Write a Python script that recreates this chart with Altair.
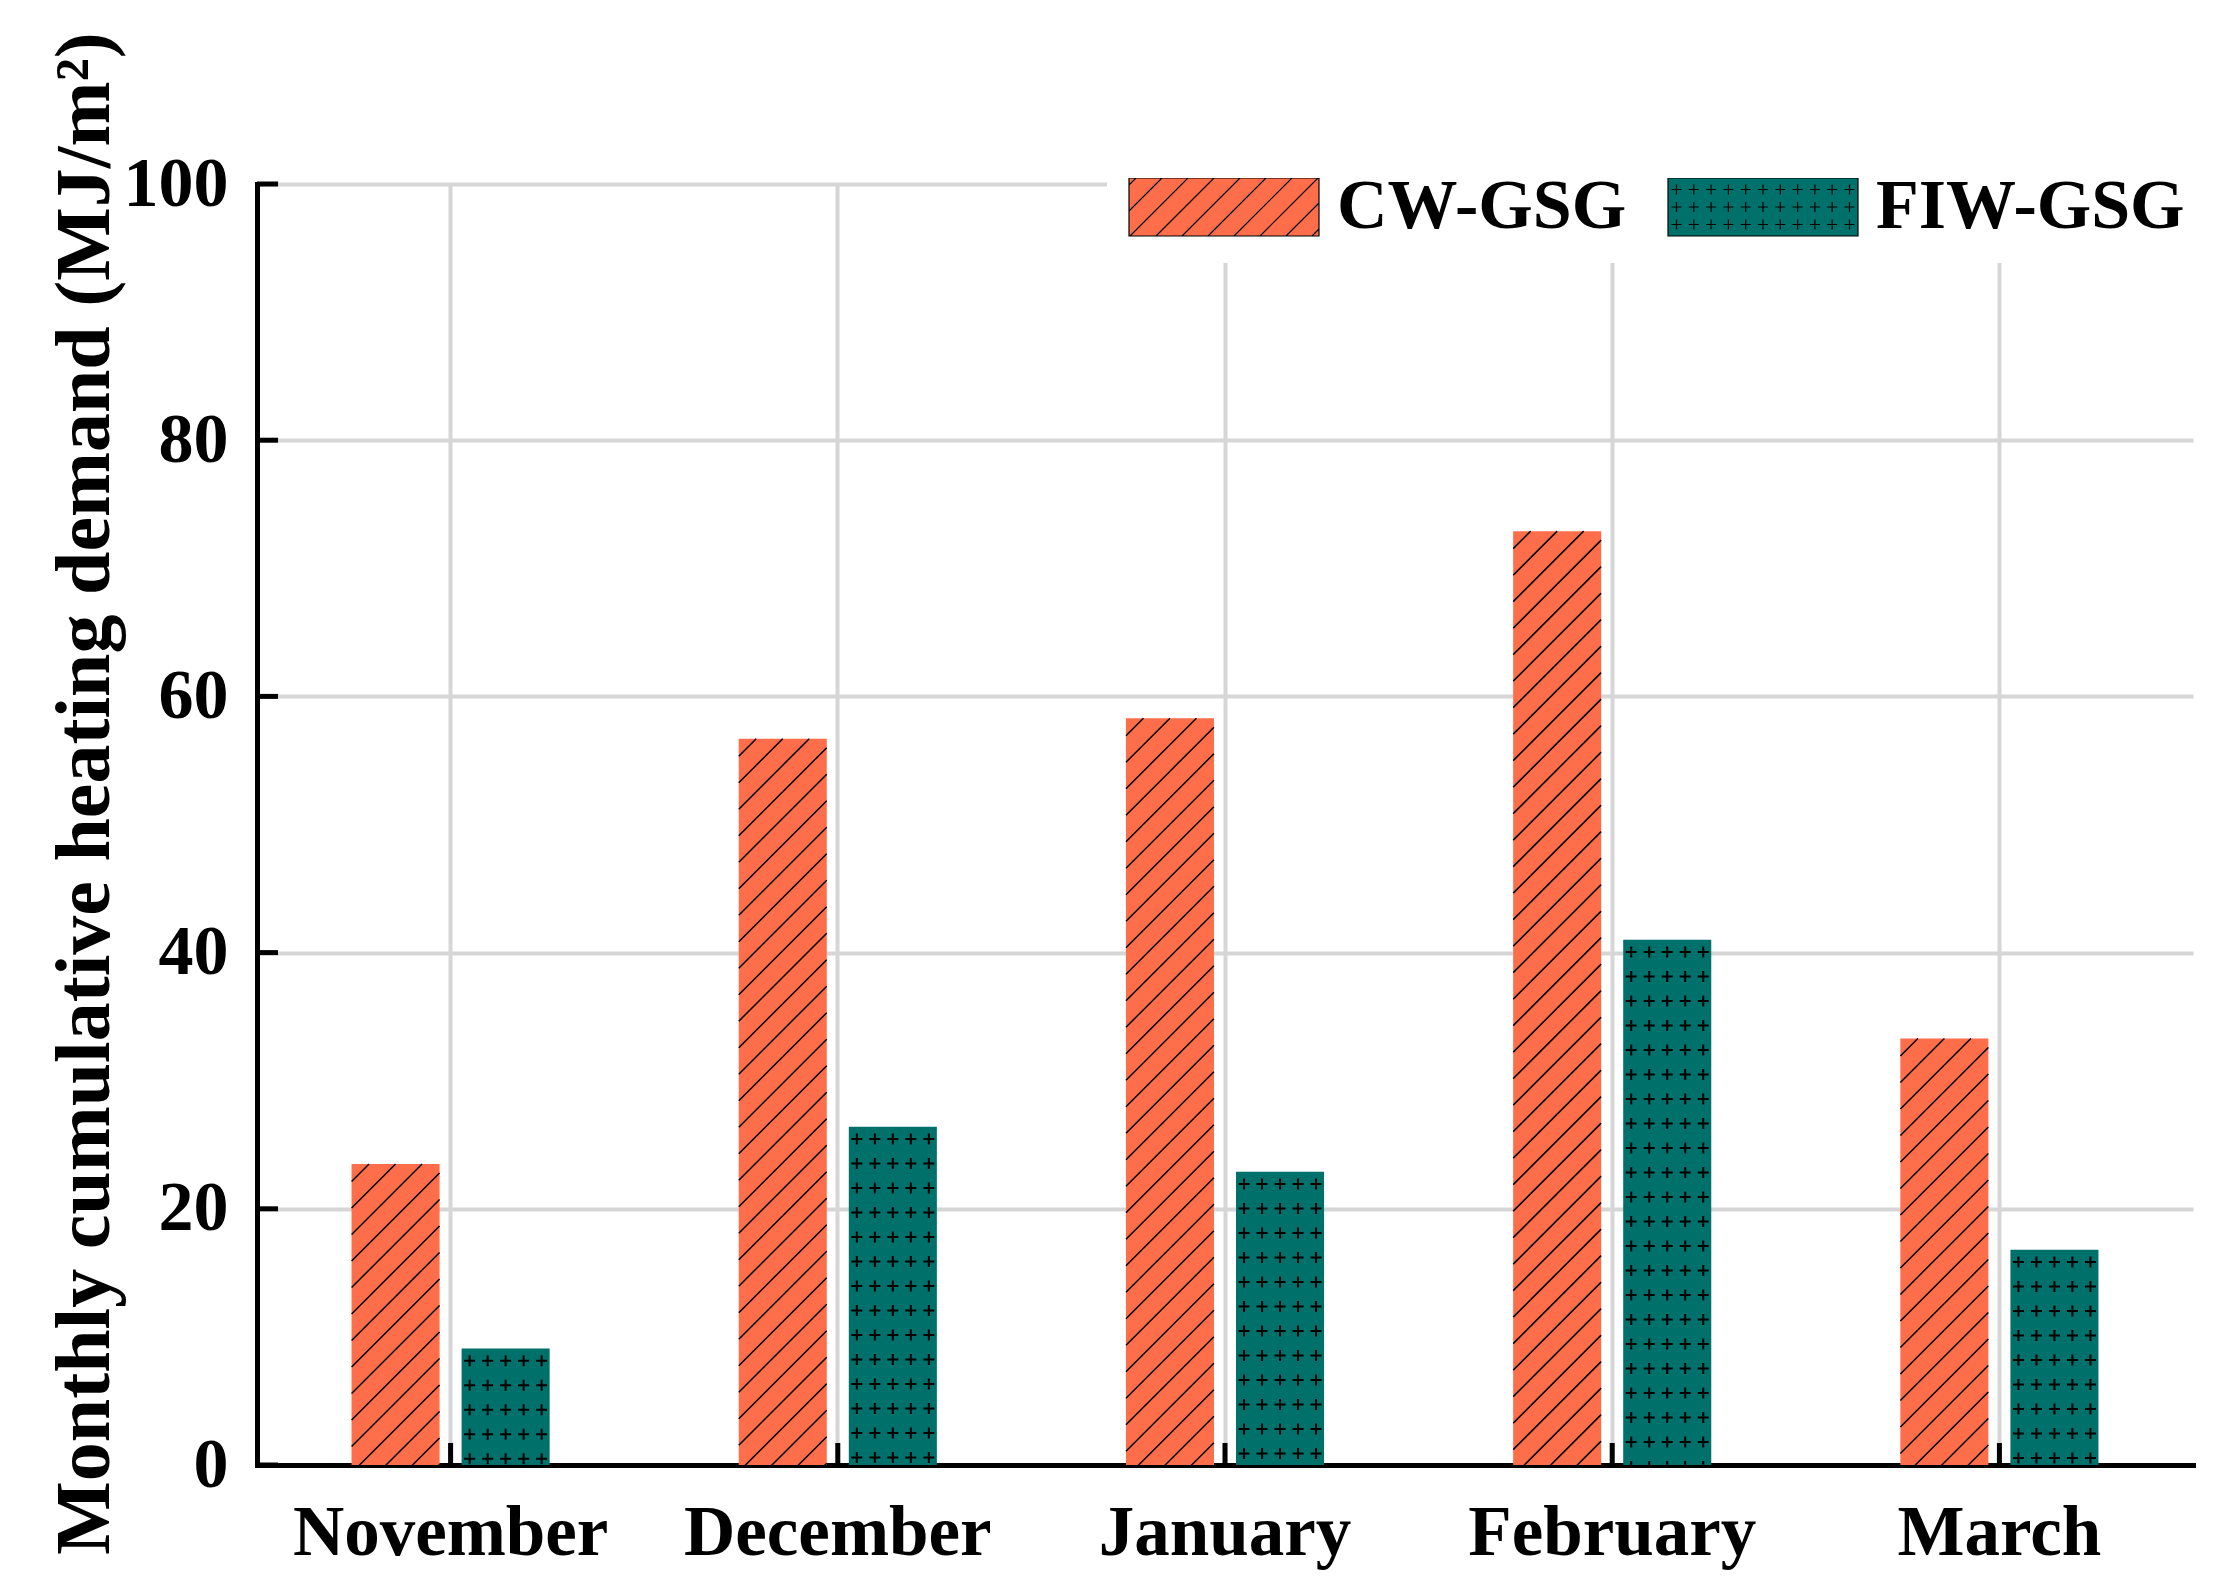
import altair as alt
import pandas as pd

# ---------------- data ----------------
MONTHS = ["November", "December", "January", "February", "March"]
SERIES = ["CW-GSG", "FIW-GSG"]
CW_VALUES = [23.5, 56.7, 58.3, 72.9, 33.3]
FIW_VALUES = [9.1, 26.4, 22.9, 41.0, 16.8]
Y_TICKS = [0, 20, 40, 60, 80, 100]
COLORS = ["#FF6E4A", "#00706A"]
Y_TITLE = "Monthly cumulative heating demand (MJ/m²)"

# ---------------- layout / style ----------------
FONT = "Liberation Serif"
W, H = 1936, 1281
YMAX = 100
PX_PER_UNIT = H / YMAX
BAR_W = 88
HATCH_STEP_PX = 26.5
PLUS_ROW_PX = 24.5


def fmt(v):
    s = f"{v:.4f}"
    return "0" if s in ("-0.0000", "0.0000") else s


def hatch_path(half_w, half_h, spacing, rect=False):
    hw = 1.0
    hh = half_h / half_w
    d = spacing / half_w
    parts = []
    if rect:
        parts.append(f"M{fmt(-hw)},{fmt(-hh)}H{fmt(hw)}V{fmt(hh)}H{fmt(-hw)}Z")
    for k in range(-12, 13):
        c = k * d + d / 2
        s_lo = max(-hh, -hw - c)
        s_hi = min(hh, hw - c)
        if s_hi - s_lo > 1e-6:
            x1, y1 = c + s_lo, s_lo
            x2, y2 = c + s_hi, s_hi
            parts.append(f"M{fmt(x1)},{fmt(-y1)}L{fmt(x2)},{fmt(-y2)}")
    return "".join(parts)


def plus_path(half_w, xs_px, ys_px, arm_px, half_h=None):
    parts = []
    if half_h is not None:
        hh = half_h / half_w
        parts.append(f"M-1,{fmt(-hh)}H1V{fmt(hh)}H-1Z")
    a = arm_px / half_w
    for y in ys_px:
        for x in xs_px:
            ux, uy = x / half_w, y / half_w
            parts.append(f"M{fmt(ux - a)},{fmt(uy)}H{fmt(ux + a)}M{fmt(ux)},{fmt(uy - a)}V{fmt(uy + a)}")
    return "".join(parts)


# bar fill textures (tiles as custom symbol paths)
HATCH_TILE = hatch_path(BAR_W / 2, HATCH_STEP_PX / 2, HATCH_STEP_PX)
PLUS_ROW = plus_path(BAR_W / 2, [-36, -18, 0, 18, 36], [0], 5.5)

# legend symbols
LEG_W, LEG_H = 190, 58
LEG_HATCH = hatch_path(LEG_W / 2, LEG_H / 2, 26, rect=True)
LEG_PLUS = plus_path(LEG_W / 2, [(i - 5) * 17.3 for i in range(11)], [-17.5, 0, 17.5], 5, half_h=LEG_H / 2)

rows = []
for m, c, f in zip(MONTHS, CW_VALUES, FIW_VALUES):
    rows.append({"month": m, "series": SERIES[0], "value": c})
    rows.append({"month": m, "series": SERIES[1], "value": f})
df = pd.DataFrame(rows)

xscale = alt.Scale(domain=MONTHS, paddingInner=0, paddingOuter=0)
yscale = alt.Scale(domain=[0, YMAX], nice=False, zero=True)
xoff = alt.XOffset("series:N", scale=alt.Scale(domain=SERIES, paddingInner=0.2, paddingOuter=0.859))
color_scale = alt.Scale(domain=SERIES, range=COLORS)
shape_scale = alt.Scale(domain=SERIES, range=[LEG_HATCH, LEG_PLUS])

GRID = "#d6d6d6"

x_axis = alt.Axis(
    title=None, labelAngle=0, labelFont=FONT, labelFontSize=71, labelFontWeight="bold",
    labelColor="black", labelBaseline="alphabetic", labelPadding=89, labelLimit=1000,
    ticks=False, tickSize=0, domainColor="black", domainWidth=5, domainCap="square",
    grid=True, gridColor=GRID, gridWidth=4, bandPosition=0.5,
)
y_axis = alt.Axis(
    values=Y_TICKS, format="d", title=Y_TITLE, titleFont=FONT, titleFontSize=78,
    titleFontWeight="bold", titleColor="black", titleX=-149, titleY=609,
    titleBaseline="alphabetic", titleAlign="center", titleAngle=270, titleLimit=3000,
    labelFont=FONT, labelFontSize=70, labelFontWeight="bold", labelColor="black",
    labelPadding=29, ticks=False, tickSize=0, domainColor="black", domainWidth=5,
    domainCap="square", grid=True, gridColor=GRID, gridWidth=4,
)

legend = alt.Legend(
    title=None, orient="none", legendX=850, legendY=-27, direction="horizontal",
    labelFont=FONT, labelFontSize=70, labelFontWeight="bold", labelColor="black",
    labelLimit=1000, labelOffset=17, symbolSize=LEG_W ** 2, clipHeight=LEG_H,
    columnPadding=40, padding=21, fillColor="white",
    symbolStrokeWidth=1.2, symbolOpacity=1,
)


def X(field="month:N"):
    return alt.X(field, scale=xscale, axis=x_axis, title=None)


def Y(field):
    return alt.Y(field, scale=yscale, axis=y_axis, title=Y_TITLE)


base = alt.Chart(df)

# invisible (clipped) point layer that carries the patterned legend symbols
legend_layer = base.mark_point(filled=True, stroke="black", strokeWidth=1.2, opacity=1, clip=True).encode(
    x=alt.value(-5000),
    y=alt.value(-5000),
    color=alt.Color("series:N", scale=color_scale, legend=legend),
    shape=alt.Shape("series:N", scale=shape_scale, legend=legend),
)

bars = base.mark_bar().encode(
    x=X(),
    xOffset=xoff,
    y=Y("value:Q"),
    color=alt.Color("series:N", scale=color_scale, legend=legend),
)

P_H = HATCH_STEP_PX / PX_PER_UNIT
hatch = (
    base.transform_filter(alt.datum.series == SERIES[0])
    .transform_calculate(r=f"sequence({P_H / 2}, datum.value + {P_H / 2}, {P_H})")
    .transform_flatten(["r"])
    .transform_calculate(yc="datum.value - datum.r")
    .mark_point(shape=HATCH_TILE, size=BAR_W ** 2, filled=False, stroke="black",
                strokeWidth=1.5, opacity=1, clip=True)
    .encode(x=X(), xOffset=xoff, y=Y("yc:Q"))
)

P_P = PLUS_ROW_PX / PX_PER_UNIT
plus = (
    base.transform_filter(alt.datum.series == SERIES[1])
    .transform_calculate(r=f"sequence({P_P / 2}, datum.value + {P_P / 2}, {P_P})")
    .transform_flatten(["r"])
    .transform_calculate(yc="datum.value - datum.r")
    .mark_point(shape=PLUS_ROW, size=BAR_W ** 2, filled=False, stroke="black",
                strokeWidth=2, opacity=1, clip=True)
    .encode(x=X(), xOffset=xoff, y=Y("yc:Q"))
)

x_ticks = alt.Chart(pd.DataFrame({"month": MONTHS})).mark_rule(color="black", strokeWidth=5).encode(
    x=X(),
    y=alt.value(H),
    y2=alt.value(H - 22),
)

y_ticks = alt.Chart(pd.DataFrame({"tick": Y_TICKS})).mark_rule(color="black", strokeWidth=5).encode(
    y=Y("tick:Q"),
    x=alt.value(0),
    x2=alt.value(21),
)

chart = (
    alt.layer(legend_layer, bars, hatch, plus, x_ticks, y_ticks)
    .properties(
        width=W,
        height=H,
        padding={"left": 249, "top": 176, "right": 26, "bottom": 114},
        autosize=alt.AutoSizeParams(type="none"),
        background="white",
    )
    .configure_view(stroke=None)
)

chart.save("out.html", embed_options={"renderer": "svg", "actions": False})
